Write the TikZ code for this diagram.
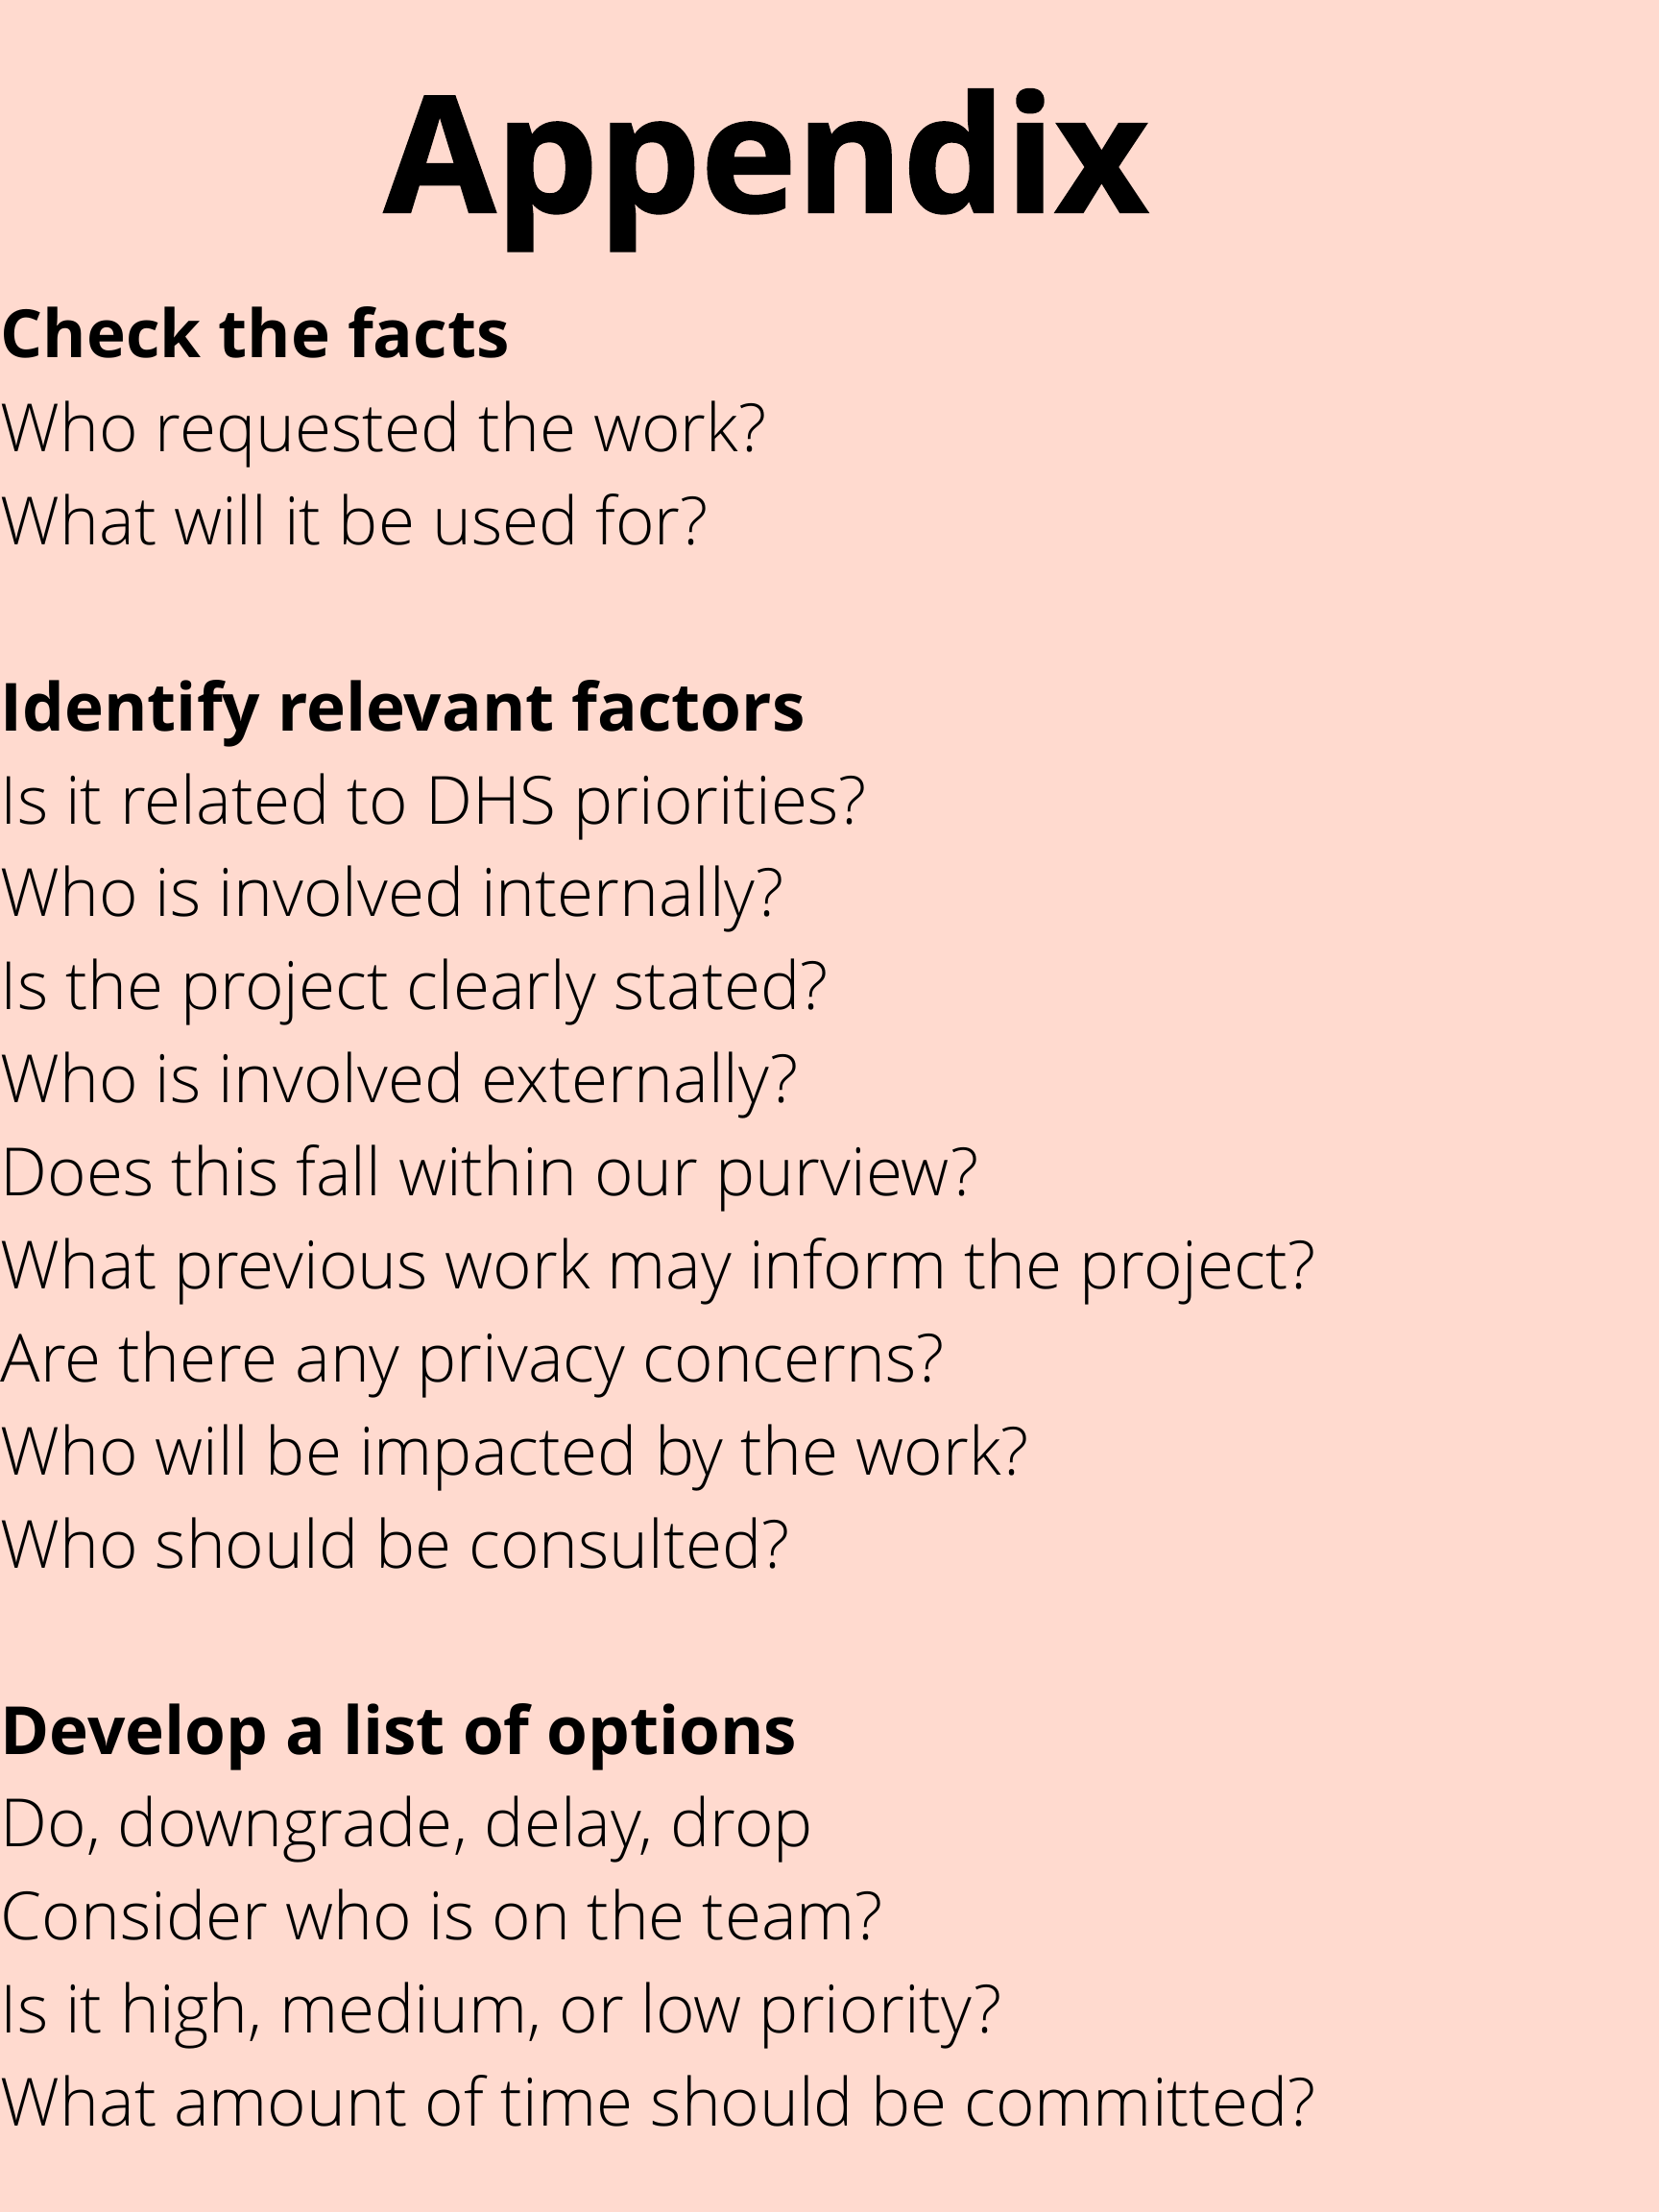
\documentclass[tikz,border=0pt]{standalone}
\usepackage{fontspec}
\setmainfont{Open Sans}
\newfontfamily\lightfont{Open Sans Light}
\newfontfamily\heavyfont[FakeBold=1.2]{Open Sans Bold}
\usetikzlibrary{positioning}
\definecolor{pagepeach}{RGB}{255,218,207}
\tikzstyle{titletext} = [inner sep=0pt, anchor=base, font=\fontsize{48}{56}\selectfont\heavyfont]
\tikzstyle{heading} = [inner sep=0pt, anchor=base west, font=\fontsize{19.7}{24}\selectfont\bfseries]
\tikzstyle{question} = [inner sep=0pt, anchor=base west, font=\fontsize{19.7}{24}\selectfont\lightfont]

\begin{document}
\begin{tikzpicture}

% Page
\fill[pagepeach] (0,0) rectangle (17.28,-23.04);
\useasboundingbox (0,0) rectangle (17.28,-23.04);

% Title
\node[titletext] (title) at (7.98,-2.21) {Appendix};

% Check the facts
\node[heading] (facts_head) at (0,-3.73) {Check the facts};
\node[question] (facts_q1) at (0,-4.70) {Who requested the work?};
\node[question] (facts_q2) at (0,-5.67) {What will it be used for?};

% Identify relevant factors
\node[heading] (factors_head) at (0,-7.61) {Identify relevant factors};
\node[question] (factors_q1) at (0,-8.58) {Is it related to DHS priorities?};
\node[question] (factors_q2) at (0,-9.54) {Who is involved internally?};
\node[question] (factors_q3) at (0,-10.51) {Is the project clearly stated?};
\node[question] (factors_q4) at (0,-11.48) {Who is involved externally?};
\node[question] (factors_q5) at (0,-12.45) {Does this fall within our purview?};
\node[question] (factors_q6) at (0,-13.42) {What previous work may inform the project?};
\node[question] (factors_q7) at (0,-14.39) {Are there any privacy concerns?};
\node[question] (factors_q8) at (0,-15.36) {Who will be impacted by the work?};
\node[question] (factors_q9) at (0,-16.33) {Who should be consulted?};

% Develop a list of options
\node[heading] (options_head) at (0,-18.27) {Develop a list of options};
\node[question] (options_q1) at (0,-19.23) {Do, downgrade, delay, drop};
\node[question] (options_q2) at (0,-20.20) {Consider who is on the team?};
\node[question] (options_q3) at (0,-21.17) {Is it high, medium, or low priority?};
\node[question] (options_q4) at (0,-22.14) {What amount of time should be committed?};

\end{tikzpicture}
\end{document}
